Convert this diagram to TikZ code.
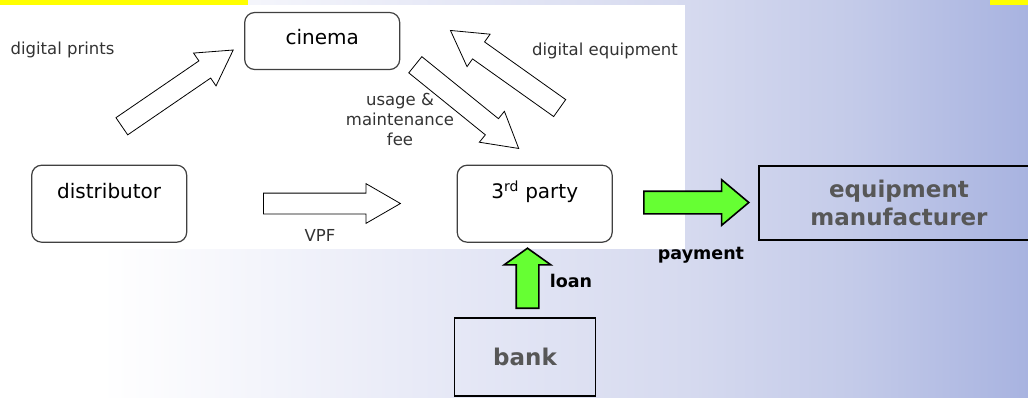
\documentclass[tikz,border=0pt]{standalone}
\usepackage{fontspec}
\setmainfont{DejaVu Sans}
\usetikzlibrary{shapes.arrows, positioning}
\definecolor{paygreen}{HTML}{66FF33}
\definecolor{boxgray}{HTML}{575757}
\definecolor{bgA}{RGB}{232,234,247}
\definecolor{bgB}{RGB}{214,218,239}
\definecolor{bgC}{RGB}{196,203,233}
\definecolor{bgD}{RGB}{168,179,224}
\definecolor{slideyellow}{HTML}{FFFF00}
% stops mapped onto the middle 50bp of the shading
\pgfdeclarehorizontalshading{slidebg}{100bp}{color(0bp)=(white); color(29.9bp)=(white); color(45.4bp)=(bgA); color(58.3bp)=(bgB); color(66.3bp)=(bgC); color(75bp)=(bgD); color(100bp)=(bgD)}

\begin{document}
\begin{tikzpicture}[
    x=1pt, y=-1pt,
    roundbox/.style={draw=black!75, line width=1.2pt, rounded corners=10pt, fill=white, minimum width=155pt, minimum height=77pt, font=\fontsize{20}{24}\selectfont, text height=15pt, text depth=25pt},
    plainbox/.style={draw=black, line width=1.8pt, text=boxgray, font=\fontsize{23}{28}\selectfont\bfseries, align=center},
    hollowarrow/.style={single arrow, draw=black, line width=0.8pt, fill=white, inner sep=0pt, text height=10pt, text depth=10pt, single arrow head extend=9.5pt, single arrow tip angle=60, minimum height=135pt, anchor=tail},
    greenarrow/.style={single arrow, draw=black, line width=1.6pt, fill=paygreen, inner sep=0pt, text height=10.5pt, text depth=10.5pt, anchor=tail},
    flowlabel/.style={font=\fontsize{16.5}{20}\selectfont, text=black!80, align=center},
    moneylabel/.style={font=\fontsize{17.5}{20}\selectfont\bfseries}
]

% Background
\clip (0,0) rectangle (1028,397);
\shade[shading=slidebg] (0,0) rectangle (1028,397);
\fill[white] (0,4.5) rectangle (685,248.5);
\fill[slideyellow] (0,0) rectangle (248,4.5);
\fill[slideyellow] (990,0) rectangle (1028,4.5);

% Nodes
\node[roundbox, minimum height=57pt, text depth=8pt] (cinema) at (322.2,41) {cinema};
\node[roundbox] (distributor) at (109.2,203.7) {distributor};
\node[roundbox] (party) at (534.7,203.7) {3\textsuperscript{rd} party};
\node[plainbox, minimum width=280pt, minimum height=74pt] (manufacturer) at (899,202.9) {equipment\\manufacturer};
\node[plainbox, minimum width=141pt, minimum height=78pt] (bank) at (525,356.7) {bank};

% Flows
\node[hollowarrow, rotate=34.4] (prints) at (121.5,126.5) {};
\node[hollowarrow, rotate=-39, minimum height=133pt] (usage) at (415,64.5) {};
\node[hollowarrow, rotate=144.6, minimum height=134pt] (equip) at (560,108.3) {};
\node[hollowarrow, minimum height=137pt] (vpf) at (263,203.5) {};

\node[greenarrow, single arrow head extend=11.5pt, single arrow tip angle=80, minimum height=105pt] (pay) at (643,202.5) {};
\node[greenarrow, rotate=90, single arrow head extend=12pt, single arrow tip angle=109, minimum height=60pt] (loan) at (527.5,309) {};

% Labels
\node[flowlabel] (printslabel) at (62.5,50) {digital prints};
\node[flowlabel] (equiplabel) at (605,51) {digital equipment};
\node[flowlabel] (usagelabel) at (400,119) {usage \&\\maintenance\\fee};
\node[flowlabel] (vpflabel) at (320,235) {VPF};
\node[moneylabel] (paylabel) at (701,255) {payment};
\node[moneylabel] (loanlabel) at (571,281) {loan};

\end{tikzpicture}
\end{document}
